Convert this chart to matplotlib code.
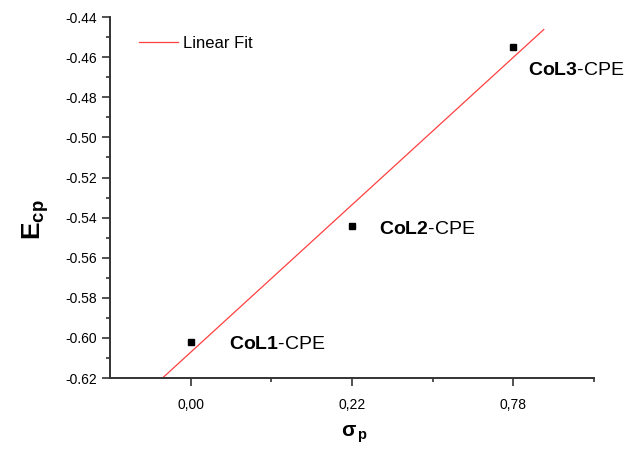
import numpy as np
import matplotlib
matplotlib.use('Agg')
import matplotlib.pyplot as plt
from matplotlib.ticker import MultipleLocator, FixedLocator

plt.rcParams['font.family'] = ['Liberation Sans', 'DejaVu Sans']
plt.rcParams['mathtext.fontset'] = 'custom'
plt.rcParams['mathtext.rm'] = 'Liberation Sans'
plt.rcParams['mathtext.bf'] = 'Liberation Sans:bold'
plt.rcParams['mathtext.it'] = 'Liberation Sans:italic'

# data
pos = [1, 2, 3]
sigma_labels = ['0,00', '0,22', '0,78']
ecp = [-0.602, -0.544, -0.455]
names = ['CoL1', 'CoL2', 'CoL3']
label_pos = [(1.24, -0.6035), (2.17, -0.5457), (3.09, -0.4664)]

# linear fit vs position
k, b = np.polyfit(pos, ecp, 1)
xf = np.array([0.5, 3.19])

fig = plt.figure(figsize=(6.27, 4.49), dpi=100)
ax = fig.add_axes([0.1754, 0.158, 0.7716, 0.804])

ax.plot(xf, k * xf + b, color='#ff4040', lw=0.9, label='Linear Fit')
ax.plot(pos, ecp, 's', color='black', ms=5, label='_nolegend_')

for n, (tx, ty) in zip(names, label_pos):
    ax.text(tx, ty, r'$\mathbf{' + n + '}$-CPE', fontsize=14, va='center', ha='left')

ax.set_xlim(0.5, 3.5)
ax.set_ylim(-0.62, -0.44)
ax.xaxis.set_major_locator(FixedLocator(pos))
ax.set_xticklabels(sigma_labels)
ax.xaxis.set_minor_locator(FixedLocator([1.5, 2.5, 3.5]))
ax.yaxis.set_major_locator(MultipleLocator(0.02))
ax.yaxis.set_minor_locator(MultipleLocator(0.01))
ax.yaxis.set_major_formatter(plt.FuncFormatter(lambda v, p: '%.2f' % v))

for s in ['top', 'right']:
    ax.spines[s].set_visible(False)
for s in ['left', 'bottom']:
    ax.spines[s].set_linewidth(1.4)
    ax.spines[s].set_color('#333333')
ax.tick_params(which='major', direction='out', length=6, width=1.2, labelsize=10, colors='#333333', labelcolor='black')
ax.tick_params(which='minor', direction='out', length=3, width=1.2, colors='#333333')
ax.tick_params(axis='x', pad=8)

ax.set_ylabel(r'$\mathbf{E_{cp}}$', fontsize=19)
ax.yaxis.set_label_coords(-0.122, 0.44)
ax.set_xlabel(r'$\mathbf{\sigma_{\,p}}$', fontsize=15)
ax.xaxis.set_label_coords(0.505, -0.125)

ax.legend(loc='upper left', bbox_to_anchor=(0.03, 0.99), frameon=False, fontsize=12,
          handlelength=2.3, handletextpad=0.3)

fig.savefig('out.png', dpi=100)
